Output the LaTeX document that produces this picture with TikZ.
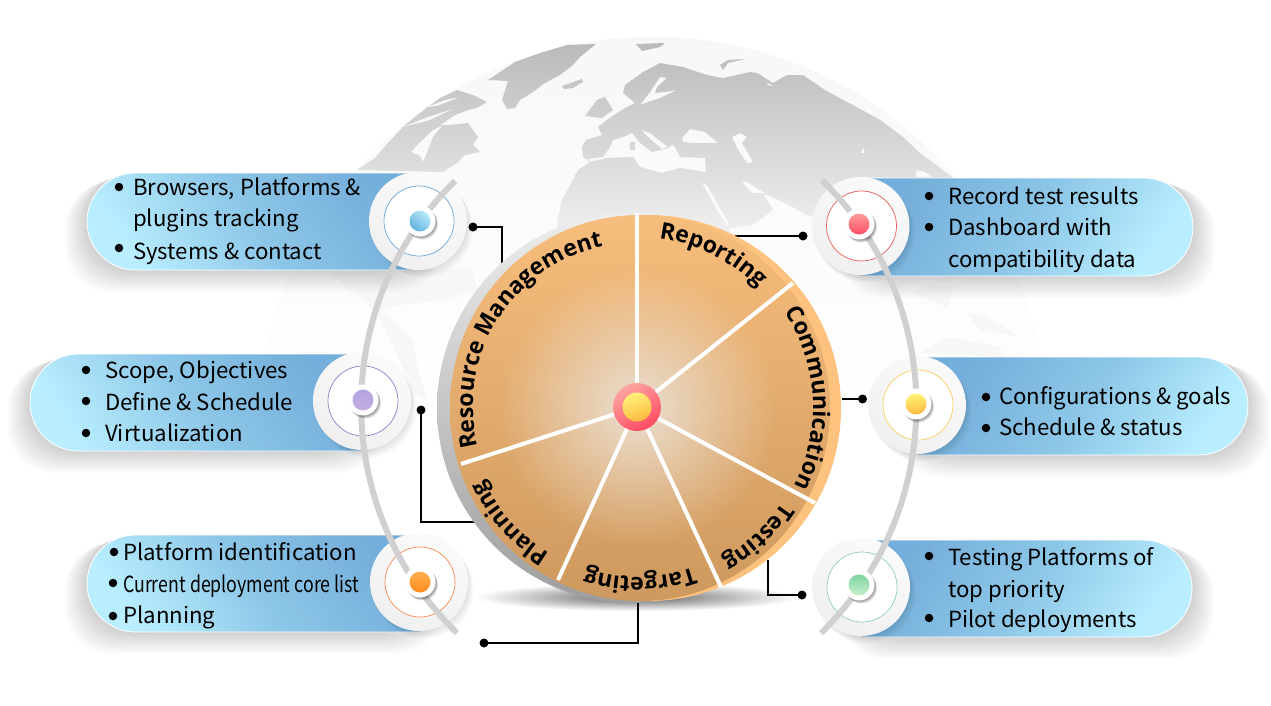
\documentclass[tikz,border=0pt]{standalone}
\usepackage{fontspec}
\setmainfont{Noto Sans CJK SC}
\newfontfamily\wheelfont{Open Sans}
\usetikzlibrary{decorations.text,fadings,shapes.misc}

\definecolor{paneldark}{HTML}{74AEDA}
\definecolor{panelmid}{HTML}{8CC6E7}
\definecolor{panellight}{HTML}{B8EEFF}
\definecolor{arcgray}{HTML}{D0D0D0}
\definecolor{ringorange}{HTML}{FCC27E}
\definecolor{glowcol}{HTML}{EADFD2}

\tikzset{
	panelbox/.style={rounded rectangle,draw=white,line width=0.8pt,inner sep=0pt},
	leftpanel/.style={panelbox,rounded rectangle right arc=none,top color=panellight,bottom color=paneldark,middle color=panelmid,shading angle=125},
	rightpanel/.style={panelbox,rounded rectangle left arc=none,top color=panellight,bottom color=paneldark,middle color=panelmid,shading angle=-125},
	outerdisc/.style={circle,minimum size=98pt,inner sep=0pt,top color=black!6,bottom color=black!2,shading angle=150},
	ringdisc/.style={circle,minimum size=70pt,inner sep=0pt,fill=white,line width=0.7pt},
	capdisc/.style={circle,minimum size=31pt,inner sep=0pt,fill=white},
	capdot/.style={circle,minimum size=21pt,inner sep=0pt},
	bulletdot/.style={circle,fill=black,minimum size=8.5pt,inner sep=0pt},
	itemtext/.style={anchor=base west,inner sep=0pt,font=\fontsize{22.2}{25}\selectfont},
	wiredot/.style={circle,fill=black,minimum size=9pt,inner sep=0pt},
	wire/.style={draw=black,line width=1.5pt},
	spokeline/.style={draw=white,line width=4pt},
	arcline/.style={draw=arcgray,line width=6pt}
}
\tikzfading[name=hubglow,inner color=transparent!0,outer color=transparent!100]

\newcommand\wheelfnt{\wheelfont\bfseries\fontsize{23}{25}\selectfont}
\newcommand\wheellabel[4]{\path[decorate,decoration={text along path,text align=center,text={|\wheelfnt|#4}}] (#1:#3) arc[start angle=#1,end angle=#2,radius=#3];}
\newcommand\panelshadow[4]{%
	\foreach \s in {2,4,...,22} {
		\fill[black,opacity=0.016,rounded corners=46pt] (#1-\s,#2+\s*0.4) rectangle (#3+\s,#4+\s);
	}
}

\begin{document}
\begin{tikzpicture}[x=1pt,y=-1pt]
	\useasboundingbox (0,0) rectangle (1271,705);
	\fill[white] (0,0) rectangle (1271,705);

	% globe
	\shade[top color=black!3,bottom color=white,middle color=white] (653,433) circle[radius=396];
	\fill[black!3] (330,272) -- (470,268) -- (478,290) -- (440,300) -- (400,305) -- (383,310) -- (413,340) -- (417,367) -- (427,400) -- (413,393) -- (395,350) -- (375,310) -- (350,290) -- cycle
		(913,292) -- (933,285) -- (953,287) -- (947,307) -- (937,303) -- cycle
		(967,313) -- (987,317) -- (1020,337) -- (1000,333) -- (980,330) -- cycle
		(920,353) -- (947,337) -- (1000,347) -- (1003,357) -- cycle;
	\shade[even odd rule,top color=black!27,bottom color=black!4]
		% greenland, iceland, svalbard
		(596,44) -- (567,45) -- (540,53) -- (515,62) -- (488,80) -- (508,81) -- (502,100) -- (507,109) -- (515,108) -- (520,100) -- (533,92) -- (545,83) -- (560,75) -- (573,65) -- (580,57) -- cycle
		(562,86) -- (582,79) -- (583,82) -- (573,88) -- (564,89) -- cycle
		(636,44) -- (665,43) -- (660,47) -- (642,51) -- cycle
		% north america
		(357,170) -- (375,158) -- (388,143) -- (405,125) -- (420,113) -- (440,98) -- (457,90) -- (473,95) -- (487,102) -- (477,108) -- (468,110) -- (455,115) -- (440,125) -- (450,125) -- (468,123) -- (478,137) -- (473,145) -- (480,152) -- (465,155) -- (457,163) -- (443,172) -- cycle
		(411,152) -- (420,142) -- (433,130) -- (443,125) -- (433,137) -- (426,155) -- (423,162) -- (420,156) -- cycle
		(400,128) -- (425,118) -- (455,108) -- (430,120) -- cycle
		(425,108) -- (445,100) -- (460,97) -- (440,105) -- cycle
		% uk, novaya zemlya
		(585,116) -- (597,100) -- (605,97) -- (613,110) -- (602,118) -- cycle
		(720,65) -- (728,60) -- (745,59) -- (728,63) -- (723,70) -- cycle
		% eurasia and africa
		(583,157) -- (582,147) -- (586,140) -- (602,135) -- (598,127) -- (607,120) -- (617,113) -- (627,107) -- (635,103) -- (623,93) -- (625,85) -- (643,72) -- (660,63) -- (683,67) -- (707,75) -- (723,78) -- (750,72) -- (757,73) -- (773,83) -- (787,75) -- (803,75) -- (825,90) -- (847,102) -- (862,110) -- (880,120) -- (903,137) -- (920,153) -- (952,177) -- (952,185) -- (830,185) -- (830,222) -- (807,215) -- (785,203) -- (763,193) -- (773,210) -- (753,225) -- (730,228) -- (725,250) -- (560,250) -- (557,223) -- (562,200) -- (578,170) -- (590,162) -- cycle
		% mediterranean and the other seas
		(588,159) -- (603,157) -- (610,147) -- (613,140) -- (623,137) -- (632,133) -- (640,143) -- (652,152) -- (660,150) -- (668,148) -- (672,145) -- (675,147) -- (680,157) -- (705,158) -- (706,172) -- (680,168) -- (662,173) -- (640,167) -- (633,157) -- (607,158) -- (590,162) -- cycle
		(630,142) -- (635,142) -- (635,150) -- (630,150) -- cycle
		(641,130) -- (650,133) -- (668,147) -- (662,149) -- (650,139) -- cycle
		(660,77) -- (667,78) -- (657,87) -- (655,93) -- (665,92) -- (677,90) -- (660,98) -- (645,103) -- (640,105) -- (650,92) -- cycle
		(682,138) -- (690,129) -- (705,132) -- (718,143) -- (707,143) -- (693,143) -- (683,142) -- cycle
		(732,137) -- (740,133) -- (747,137) -- (742,143) -- (753,162) -- (747,163) -- (738,150) -- cycle
		(702,183) -- (707,185) -- (728,222) -- (728,227) -- (718,212) -- cycle
		(742,182) -- (747,182) -- (765,193) -- (753,193) -- (747,188) -- cycle
		(863,147) -- (865,153) -- (861,153) -- cycle
		(916,170) -- (925,172) -- (932,177) -- (916,177) -- cycle
		(760,73) -- (768,85) -- (775,87) -- (766,82) -- cycle;

	% panels
	\panelshadow{87}{173}{420}{270}
	\panelshadow{30}{354}{362}{451}
	\panelshadow{87}{535}{420}{632}
	\panelshadow{860}{178}{1193}{276}
	\panelshadow{917}{357}{1248}{455}
	\panelshadow{861}{540}{1192}{637}
	\node[leftpanel,minimum width=333pt,minimum height=97pt] (panelA) at (253.5,221.5) {};
	\node[leftpanel,minimum width=332pt,minimum height=97pt] (panelB) at (196,402.5) {};
	\node[leftpanel,minimum width=333pt,minimum height=97pt] (panelC) at (253.5,583.5) {};
	\node[rightpanel,minimum width=333pt,minimum height=98pt] (panelD) at (1026.5,227) {};
	\node[rightpanel,minimum width=331pt,minimum height=98pt] (panelE) at (1082.5,406) {};
	\node[rightpanel,minimum width=331pt,minimum height=97pt] (panelF) at (1026.5,588.5) {};

	% discs on the panels
	\foreach \nm/\cx/\cy/\rc in {A/418/221/6FA8DC,B/362/401/8F7FC8,C/419/582/F58A50,D/860.5/226/E85A5A,E/917/405/F7CF60,F/861/587/90D0AA} {
		\foreach \s in {1,3,...,11} {
			\fill[black,opacity=0.02] (\cx+\s*0.5,\cy+\s*0.7) circle[radius=49];
		}
		\node[outerdisc] (disc\nm) at (\cx,\cy) {};
		\definecolor{ringcol}{HTML}{\rc}
		\node[ringdisc,draw=ringcol] (ring\nm) at (\cx+1,\cy) {};
	}

	% connectors
	\shade[inner color=black!62,outer color=white] (637,597) ellipse[x radius=162,y radius=14];
	\coordinate (wheelA) at (502,263);
	\coordinate (wheelB) at (735,236);
	\coordinate (wheelC) at (842,399);
	\coordinate (wheelD) at (768,560);
	\coordinate (wheelE) at (638,601);
	\coordinate (wheelF) at (476,522);
	\node[wiredot] (dotA) at (473,227) {};
	\node[wiredot] (dotB) at (803,236) {};
	\node[wiredot] (dotC) at (862.5,399) {};
	\node[wiredot] (dotD) at (802,595) {};
	\node[wiredot] (dotE) at (484,643) {};
	\node[wiredot] (dotF) at (421,410) {};
	\draw[wire] (dotA.center) -| (wheelA);
	\draw[wire] (dotB.center) -- (wheelB);
	\draw[wire] (dotC.center) -- (wheelC);
	\draw[wire] (dotD.center) -| (wheelD);
	\draw[wire] (dotE.center) -| (wheelE);
	\draw[wire] (dotF.center) |- (wheelF);

	% wheel
	\shade[top color=black!7,bottom color=black!38] (632,408) circle[radius=195];
	\fill[ringorange] (648,408) circle[radius=193];
	\shade[top color={rgb,255:red,247;green,189;blue,124},bottom color={rgb,255:red,206;green,153;blue,94}] (640,408) ellipse[x radius=190,y radius=193];
	\coordinate (hubc) at (637,407);
	\fill[glowcol,path fading=hubglow] (hubc) circle[radius=140];
	\foreach \ex/\ey in {637/213,793/283,815/503,721/587,558/580,461/464} {
		\draw[spokeline] (hubc) -- (\ex,\ey);
	}
	\node[circle,minimum size=48pt,inner sep=0pt,top color={rgb,255:red,255;green,165;blue,160},bottom color={rgb,255:red,255;green,75;blue,100},shading angle=30] (hub) at (hubc) {};
	\node[circle,minimum size=29pt,inner sep=0pt,top color={rgb,255:red,255;green,242;blue,122},bottom color={rgb,255:red,253;green,185;blue,62},shading angle=20] (hubdot) at (hubc) {};
	\begin{scope}[shift={(hubc)},y=1pt]
		\wheellabel{200}{96}{164}{Resource Management}
		\wheellabel{88}{39}{170}{Reporting}
		\wheellabel{38}{-32}{176}{Communication}
		\wheellabel{-27}{-67}{174}{Testing}
		\wheellabel{-65}{-113}{170}{Targeting}
		\wheellabel{-115}{-160.5}{170}{Planning}
	\end{scope}

	% arcs
	\draw[arcline] (455,181) .. controls (329,305) and (330,509) .. (457,633);
	\draw[arcline] (822,180) .. controls (948,304) and (948,509) .. (821,633);

	% caps on the arcs
	\foreach \nm/\cx/\cy/\ct/\cb/\ang in {A/420/221/B9ECFB/63B1DE/-40,B/363/400/B4A4E4/C2AEE0/0,C/420/582/FFB04F/FF8A1F/0,D/859/224/FF9D9D/FF4D66/0,E/916/404/FFF27A/FDBB3E/10,F/859/585/7FD3A0/C7F0CF/0} {
		\foreach \s in {1,2,...,5} {
			\fill[black,opacity=0.09] (\cx+\s*0.5,\cy+\s*0.6) circle[radius=15.5];
		}
		\node[capdisc] (cap\nm) at (\cx,\cy) {};
		\definecolor{captop}{HTML}{\ct}
		\definecolor{capbot}{HTML}{\cb}
		\node[capdot,top color=captop,bottom color=capbot,shading angle=\ang] (dot\nm x) at (\cx,\cy) {};
	}

	% bullets and items
	\foreach \x/\y [count=\i] in {119/187,119/248,86/370,86/401,86/433,114/552,113/583,113/616,929/196,929/227,986/397,986/428,929/556,929/618} {
		\node[bulletdot] (blt\i) at (\x,\y) {};
	}
	\foreach \x/\y/\t [count=\i] in {133/195/{Browsers, Platforms \&},133/226/plugins tracking,133/259/Systems \& contact,
		105/378/{Scope, Objectives},105/410/Define \& Schedule,105/441/Virtualization,
		123/560/Platform identification,123/623/Planning,
		948/204/Record test results,948/235/Dashboard with,948/267/compatibility data,
		999/404/Configurations \& goals,999/435/Schedule \& status,
		948/565/Testing Platforms of,948/597/top priority,948/627/Pilot deployments} {
		\node[itemtext] (item\i) at (\x,\y) {\t};
	}
	\node[itemtext,xscale=0.80] (itemcore) at (123,592) {Current deployment core list};
\end{tikzpicture}
\end{document}
